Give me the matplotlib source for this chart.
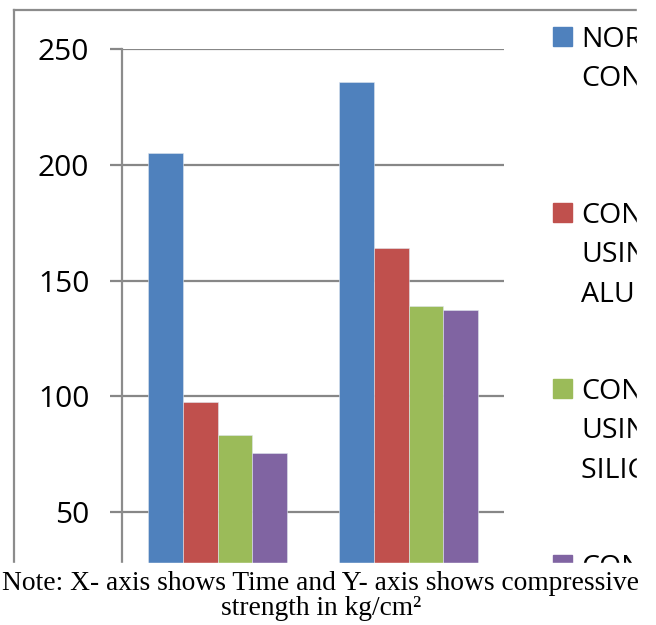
import matplotlib.pyplot as plt
from matplotlib.patches import Rectangle
from matplotlib.lines import Line2D
import numpy as np

# data
times = ['7 DAYS', '28 DAYS']
series = ['NORMAL\nCONCRETE',
          'CONCRETE\nUSING\nALUMINIUM',
          'CONCRETE\nUSING\nSILICA FUME',
          'CONCRETE\nUSING\nSTEEL FIBRE']
normal = [205.0, 235.9]
alu = [97.5, 164.2]
silica = [83.1, 139.1]
other = [75.7, 137.5]
colors = ['#4F81BD', '#C0504D', '#9BBB59', '#8064A2']
yticks = [50, 100, 150, 200, 250]
note_lines = ['Note: X- axis shows Time and Y- axis shows compressive',
              'strength in kg/cm\u00b2']

W, H = 656, 625
fig = plt.figure(figsize=(W / 100, H / 100), dpi=100)
ax = fig.add_axes([122 / W, (H - 563) / H, (504 - 122) / W, (563 - 49.3) / H])

x = np.arange(len(times))
bw = 0.182
values = [normal, alu, silica, other]
for i, vals in enumerate(values):
    ax.bar(x + (i - 1.5) * bw, vals, width=bw, color=colors[i],
           edgecolor='#dfe6ee', linewidth=0.4, zorder=3)

ax.set_xlim(-0.5, 1.5)
ax.set_ylim(27.95, 250)
ax.set_yticks(yticks)
ax.set_xticks([])
ax.yaxis.grid(True, color='#878787', linewidth=1.6, zorder=0)
ax.set_axisbelow(True)
for s in ['top', 'right', 'bottom']:
    ax.spines[s].set_visible(False)
ax.spines['left'].set_color('#8c8c8c')
ax.spines['left'].set_linewidth(1.6)
ax.tick_params(axis='y', direction='out', length=8.5, width=1.6, color='#878787',
               pad=15, labelsize=21.5)
for lab in ax.get_yticklabels():
    lab.set_fontfamily('Open Sans')

# outer chart border (only top and left are inside the crop)
fig.add_artist(Line2D([14 / W, 637 / W], [(H - 10) / H, (H - 10) / H],
                      color='#8c8c8c', linewidth=1.6))
fig.add_artist(Line2D([14 / W, 14 / W], [(H - 10) / H, (H - 563) / H],
                      color='#8c8c8c', linewidth=1.6))

# legend, equally spaced entries like Excel
for i, (name, c) in enumerate(zip(series, colors)):
    top = 27 + i * 176
    fig.add_artist(Rectangle((553 / W, (H - top - 19) / H), 19 / W, 19 / H,
                             color=c, zorder=3))
    for k, line in enumerate(name.split('\n')):
        fig.text(581 / W, (H - top - 20 - k * 39.5) / H, line, fontsize=20.5,
                 family='Open Sans', va='baseline', ha='left', zorder=3)

# chart area is cut off at the right (x=637) and bottom (y=563)
fig.add_artist(Rectangle((637 / W, (H - 563) / H), 1, 1, color='white', zorder=8))
fig.add_artist(Rectangle((0, 0), 1, (H - 563) / H, color='white', zorder=8))

for k, line in enumerate(note_lines):
    fig.text(321 / W, (H - 590 - k * 25) / H, line,
             family='Liberation Serif', fontsize=19.8, ha='center', va='baseline',
             zorder=10)

fig.savefig('out.png', dpi=100)
